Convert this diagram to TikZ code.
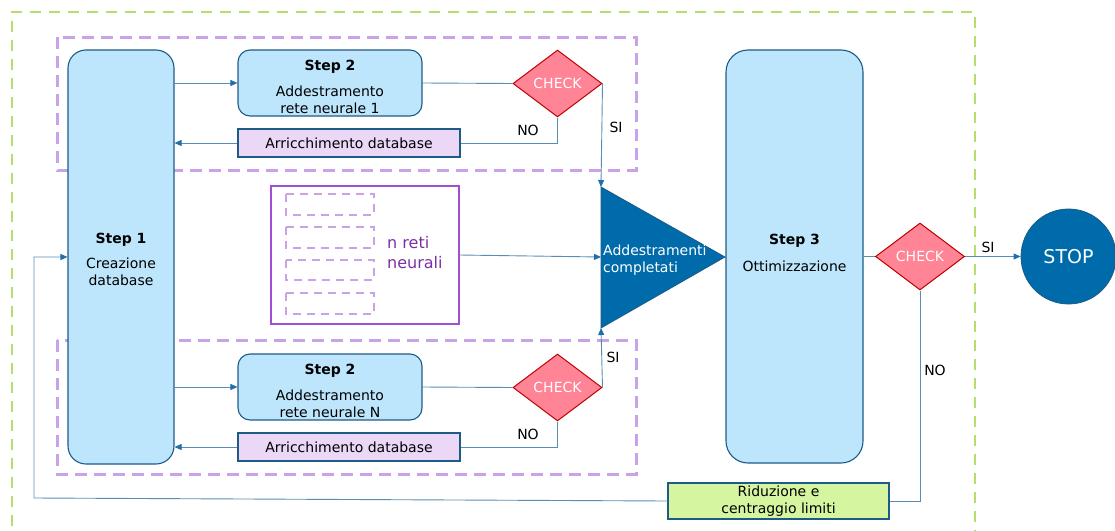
\documentclass[tikz,border=0pt]{standalone}
\usepackage{fontspec}
\setmainfont{DejaVu Sans}
\usetikzlibrary{shapes.geometric,arrows.meta}
\definecolor{lblue}{HTML}{BDE6FC}
\definecolor{boxline}{HTML}{1D5B87}
\definecolor{chkfill}{HTML}{FF8496}
\definecolor{chkline}{HTML}{C00000}
\definecolor{lav}{HTML}{EBD8F7}
\definecolor{lgreen}{HTML}{D6F5A0}
\definecolor{dblue}{HTML}{006BAA}
\definecolor{pdash}{HTML}{C9A3E8}
\definecolor{gdash}{HTML}{B6DE6E}
\definecolor{pbox}{HTML}{A24ED3}
\definecolor{ptext}{HTML}{7B2FA6}
\definecolor{conncol}{HTML}{5A8DB3}
\definecolor{arrcol}{HTML}{1F6FA8}
\tikzset{
  every node/.style={font=\fontsize{14}{17}\selectfont, inner sep=0},
  bluebox/.style={draw=boxline, fill=lblue, line width=1.1},
  check/.style={diamond, draw=chkline, fill=chkfill, text=white, aspect=1.33,
    minimum width=89, minimum height=67, inner sep=0, line width=1},
  lavbox/.style={draw=boxline, fill=lav, line width=1.1, minimum width=222, minimum height=28},
  conn/.style={draw=conncol, line width=0.9},
  arr/.style={conn, -{Triangle[length=7,width=6,color=arrcol]}},
  pdashed/.style={draw=pdash, line width=3, dash pattern=on 12 off 7},
  sdashed/.style={draw=pdash, line width=2.5, dash pattern=on 8 off 6},
  lbl/.style={text=black}
}
\begin{document}
\begin{tikzpicture}[x=1pt,y=-1pt]
\useasboundingbox (0,0) rectangle (1115,530);
% outer green dashed frame
\draw[draw=gdash, line width=2.5, dash pattern=on 11 off 8] (12,545) -- (12,12) -- (975,12) -- (975,545);
% purple dashed groups
\draw[pdashed] (57,37) rectangle (636,170);
\draw[pdashed] (57,340) rectangle (636,474);

% Step 1
\node[bluebox, rounded corners=18, minimum width=106, minimum height=414] (s1) at (121,257) {};
\node[font=\fontsize{14}{17}\selectfont\bfseries] (s1t) at (121,240) {Step 1};
\node[align=center] (s1b) at (121,272) {Creazione\\database};

% top branch
\node[bluebox, rounded corners=12, minimum width=184, minimum height=66] (s2a) at (330,83) {};
\node[font=\fontsize{14}{17}\selectfont\bfseries] (s2at) at (330,67) {Step 2};
\node[align=center] (s2ab) at (330,99.5) {Addestramento\\rete neurale 1};
\node[check] (c1) at (557.5,83.5) {CHECK};
\node[lavbox] (ar1) at (349,143) {Arricchimento database};

% bottom branch
\node[bluebox, rounded corners=12, minimum width=184, minimum height=66] (s2b) at (330,387) {};
\node[font=\fontsize{14}{17}\selectfont\bfseries] (s2bt) at (330,371) {Step 2};
\node[align=center] (s2bb) at (330,403.5) {Addestramento\\rete neurale N};
\node[check] (c2) at (557.5,387.5) {CHECK};
\node[lavbox] (ar2) at (349,447) {Arricchimento database};

% n reti neurali box
\node[draw=pbox, line width=1.5, minimum width=188, minimum height=138] (nr) at (365,255) {};
\draw[sdashed] (286,194) rectangle (374,215);
\draw[sdashed] (286,227) rectangle (374,248);
\draw[sdashed] (286,260) rectangle (374,280);
\draw[sdashed] (286,293) rectangle (374,314);
\node[align=left, anchor=west, text=ptext, font=\fontsize{16}{20}\selectfont] (nrt) at (387,253) {n reti\\neurali};

% triangle
\draw[fill=dblue, draw=boxline, line width=0.8] (601,187) coordinate (trtop) -- (725,257) coordinate (trtip) -- (601,328) coordinate (trbot) -- cycle;
\coordinate (trleft) at (601,257);
\node[align=left, anchor=west, text=white] (trt) at (603,260) {Addestramenti\\completati};

% Step 3
\node[bluebox, rounded corners=22, minimum width=137, minimum height=413] (s3) at (794.5,256.5) {};
\node[font=\fontsize{14}{17}\selectfont\bfseries] (s3t) at (794.5,241) {Step 3};
\node (s3b) at (794.5,266) {Ottimizzazione};
\node[check] (c3) at (920,256.5) {CHECK};

% STOP
\node[circle, fill=dblue, draw=boxline, line width=0.8, minimum size=95, text=white, font=\fontsize{19}{22}\selectfont] (stop) at (1068.5,256.5) {STOP};

% Riduzione
\node[draw=boxline, fill=lgreen, line width=1.1, minimum width=221, minimum height=36, align=center] (rid) at (778.5,501) {Riduzione e\\centraggio limiti};
\coordinate (lp) at (34,498);

% connectors top
\draw[arr] (s1.east |- s2a.west) -- (s2a.west);
\draw[conn] (s2a.east) -- (c1.west);
\draw[conn] (c1.south) |- (ar1.east);
\draw[arr] (ar1.west) -- (s1.east |- ar1.west);
\draw[arr] (c1.east) -- (trtop);
\node[lbl] (no1) at (528,130) {NO};
\node[lbl] (si1) at (616,127) {SI};

% connectors bottom
\draw[arr] (s1.east |- s2b.west) -- (s2b.west);
\draw[conn] (s2b.east) -- (c2.west);
\draw[conn] (c2.south) |- (ar2.east);
\draw[arr] (ar2.west) -- (s1.east |- ar2.west);
\draw[arr] (c2.east) -- (trbot);
\node[lbl] (no2) at (528,434) {NO};
\node[lbl] (si2) at (613,357) {SI};

% middle
\draw[arr] (nr.east) -- (trleft);
\draw[conn] (s3.east) -- (c3.west);
\draw[arr] (c3.east) -- (stop.west);
\node[lbl] (si3) at (988,247) {SI};
\draw[conn] (c3.south) |- (rid.east);
\node[lbl] (no3) at (935,370) {NO};
\draw[arr] (rid.west) -- (lp) |- (s1.west);
\end{tikzpicture}
\end{document}
